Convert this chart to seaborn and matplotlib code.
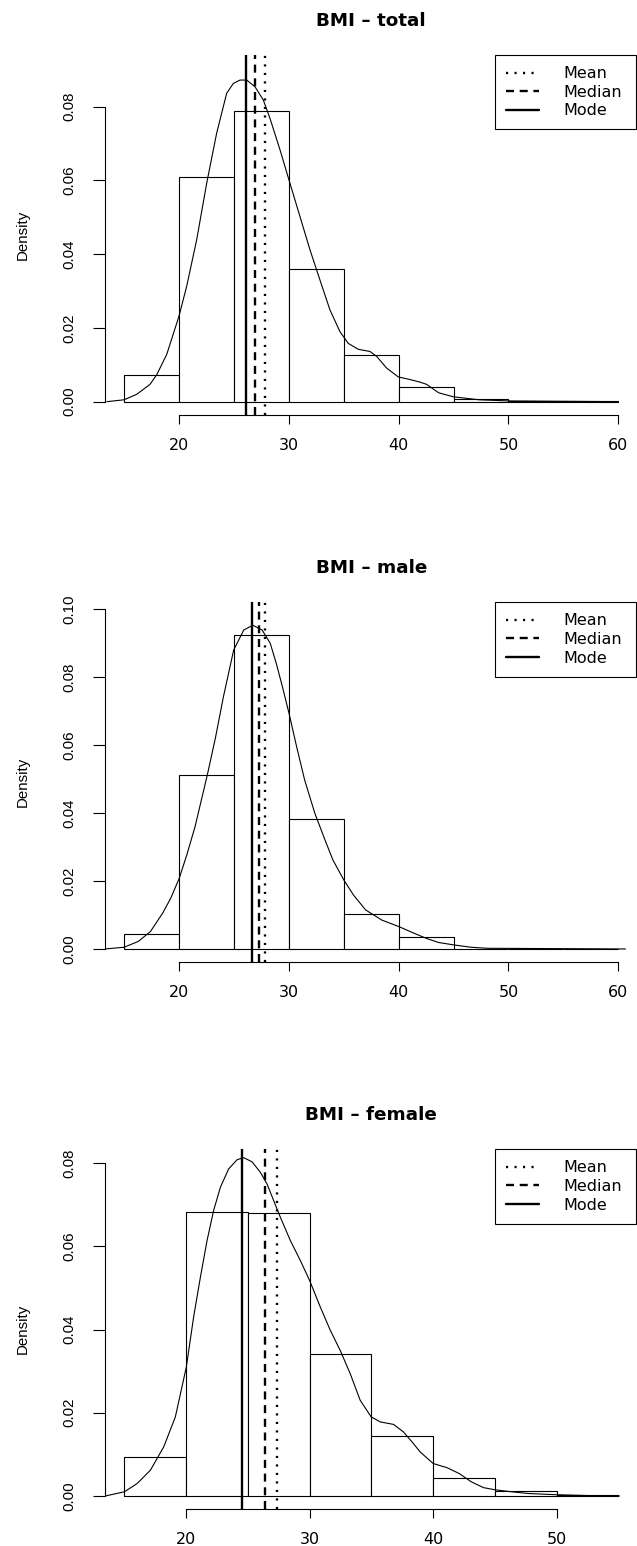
import numpy as np
import pandas as pd
import seaborn as sns
import matplotlib.pyplot as plt

# --- values ---
# histogram breaks and bar densities
edges_total = [15, 20, 25, 30, 35, 40, 45, 50, 55, 60]
bars_total = [0.0072, 0.0608, 0.0787, 0.0361, 0.0127, 0.0040, 0.0008, 0.0002, 0.0001]
edges_male = [15, 20, 25, 30, 35, 40, 45, 50, 55, 60]
bars_male = [0.0044, 0.0511, 0.0923, 0.0383, 0.0104, 0.0034, 0.0001, 0.0001, 0.0001]
edges_female = [15, 20, 25, 30, 35, 40, 45, 50, 55]
bars_female = [0.0094, 0.0682, 0.0680, 0.0342, 0.0145, 0.0044, 0.0012, 0.0002]

# density curves (x, density), traced point by point
kde_x_total = [13.41, 14.97, 16.13, 17.34, 17.95, 18.86, 19.98, 20.68, 21.59, 22.5, 23.41,
               24.32, 24.93, 25.54, 26.15, 26.9, 27.66, 28.27, 29.18, 30.0, 31.0, 31.91,
               32.82, 33.73, 34.64, 35.4, 36.31, 37.38, 37.98, 38.9, 39.96, 41.02, 41.93,
               42.53, 43.64, 45.0, 47.34, 50.0, 55.0, 60.0]
kde_y_total = [0.0, 0.0005, 0.002, 0.0047, 0.0073, 0.0128, 0.0232, 0.0313, 0.0439, 0.0592, 0.0728,
               0.0836, 0.0863, 0.0872, 0.0872, 0.0854, 0.0818, 0.0768, 0.0683, 0.0601, 0.0502, 0.0412,
               0.033, 0.0249, 0.019, 0.0158, 0.0142, 0.0136, 0.0123, 0.0091, 0.0067, 0.006, 0.0053,
               0.0047, 0.0024, 0.0013, 0.0005, 0.0002, 0.0001, 0.0]
kde_x_male = [13.23, 14.97, 16.26, 17.37, 18.48, 19.22, 20.0, 20.7, 21.44, 22.55, 23.29,
              24.03, 24.96, 25.88, 26.7, 27.55, 28.29, 28.84, 29.4, 30.0, 30.7, 31.43,
              32.36, 33.28, 34.0, 35.0, 35.87, 36.98, 38.46, 40.0, 41.42, 42.53, 43.64,
              45.0, 46.6, 48.08, 60.66]
kde_y_male = [0.0, 0.0005, 0.0022, 0.0051, 0.0105, 0.0149, 0.0208, 0.0278, 0.0360, 0.0511, 0.0620,
              0.0743, 0.088, 0.0939, 0.0953, 0.0939, 0.09, 0.0841, 0.0772, 0.0694, 0.0595, 0.0497,
              0.0399, 0.0321, 0.0262, 0.0203, 0.0159, 0.0115, 0.0085, 0.0066, 0.0046, 0.0031, 0.0019,
              0.0012, 0.0005, 0.0002, 0.0]
kde_x_female = [13.46, 15.0, 16.04, 17.11, 18.19, 19.13, 20.02, 20.61, 21.16, 21.7, 22.23,
                22.78, 23.45, 24.13, 24.66, 25.34, 26.01, 26.55, 27.09, 27.63, 28.44, 29.25,
                30.0, 30.87, 31.68, 32.48, 33.29, 34.1, 34.99, 35.72, 36.8, 37.6, 38.41,
                38.95, 40.01, 41.13, 42.12, 43.1, 44.09, 45.01, 46.39, 47.7, 50.0, 52.63, 55.1]
kde_y_female = [0.0, 0.001, 0.003, 0.0062, 0.0118, 0.019, 0.031, 0.043, 0.0526, 0.0614, 0.0686,
                0.0742, 0.0786, 0.0808, 0.0813, 0.0803, 0.0778, 0.075, 0.071, 0.067, 0.0614, 0.0566,
                0.0518, 0.0454, 0.0398, 0.035, 0.0294, 0.023, 0.019, 0.0178, 0.0172, 0.0154, 0.0126,
                0.0106, 0.0078, 0.0068, 0.0054, 0.0034, 0.002, 0.0015, 0.001, 0.0006, 0.0003, 0.0001, 0.0]

# mean / median / mode
stats_total = [27.77, 26.9, 26.1]
stats_male = [27.8, 27.25, 26.66]
stats_female = [27.36, 26.41, 24.54]

titles = ["BMI \u2013 total", "BMI \u2013 male", "BMI \u2013 female"]
stat_labels = ["Mean", "Median", "Mode"]

panels = [
    (titles[0], edges_total, bars_total, kde_x_total, kde_y_total, stats_total,
     [20, 30, 40, 50, 60], [0.0, 0.02, 0.04, 0.06, 0.08], (13.2, 61.8), (-0.00362, 0.0940), 55.0),
    (titles[1], edges_male, bars_male, kde_x_male, kde_y_male, stats_male,
     [20, 30, 40, 50, 60], [0.0, 0.02, 0.04, 0.06, 0.08, 0.10], (13.2, 61.8), (-0.003925, 0.10205), 602.3),
    (titles[2], edges_female, bars_female, kde_x_female, kde_y_female, stats_female,
     [20, 30, 40, 50], [0.0, 0.02, 0.04, 0.06, 0.08], (13.4, 56.6), (-0.0032, 0.0833), 1149.3),
]

sns.set_style("ticks")
plt.rcParams['font.family'] = ['DejaVu Sans']
plt.rcParams.update({
    'axes.linewidth': 0.8, 'axes.edgecolor': 'black', 'text.color': 'black',
    'axes.labelcolor': 'black', 'xtick.color': 'black', 'ytick.color': 'black',
})

W, H = 637, 1546
fig = plt.figure(figsize=(W / 100, H / 100), dpi=100)

left_px, right_px, panel_h = 104.6, 638.0, 360.0
span = right_px - left_px
line_styles = [(0, (0.9, 2.7)), (0, (3.4, 2.4)), '-']

for title, edges, bars, kx, ky, stats, xt, yt, xlim, ylim, top_px in panels:
    ax = fig.add_axes([left_px / W, 1 - (top_px + panel_h) / H, span / W, panel_h / H])

    centers = [(a + b) / 2 for a, b in zip(edges[:-1], edges[1:])]
    sns.histplot(x=centers, weights=bars, bins=edges, stat='count', ax=ax,
                 color='white', edgecolor='black', linewidth=0.8, alpha=1)
    sns.lineplot(x=kx, y=ky, ax=ax, color='black', linewidth=0.8)

    for val, lab, ls in zip(stats, stat_labels, line_styles):
        ax.axvline(val, color='black', linewidth=1.7, linestyle=ls, label=lab)

    ax.set_xlim(*xlim)
    ax.set_ylim(*ylim)

    for side in ['top', 'right']:
        ax.spines[side].set_visible(False)
    ax.spines['left'].set_bounds(yt[0], yt[-1])
    ax.spines['bottom'].set_bounds(xt[0], xt[-1])

    ax.set_xticks(xt)
    ax.set_xticklabels([str(v) for v in xt], fontsize=11.5)
    ax.set_yticks(yt)
    ax.set_yticklabels([f"{v:.2f}" for v in yt], rotation=90, va='center',
                       fontsize=10.8, family='Liberation Sans')
    ax.tick_params(axis='x', direction='out', length=6.7, width=0.8, pad=9.5)
    ax.tick_params(axis='y', direction='out', length=8.6, width=0.8, pad=12)

    ax.set_xlabel("")
    ax.set_ylabel("Density", fontsize=10.8, family='Liberation Sans', va='center')
    ax.yaxis.set_label_coords((23 - left_px) / span, 0.5)

    ax.text(0.5, 1 + 29.5 / panel_h, title, transform=ax.transAxes, ha='center',
            va='baseline', fontsize=13.2, fontweight='bold')

    leg = ax.legend(loc='upper left', mode='expand',
                    bbox_to_anchor=((495 - left_px) / span, 0.0, (636 - 495) / span, 1.0),
                    borderaxespad=0, fontsize=11.5, frameon=True, fancybox=False,
                    framealpha=1, edgecolor='black', handlelength=2.06, handletextpad=1.5,
                    borderpad=0.7, labelspacing=0.22)
    leg.get_frame().set_linewidth(0.8)

fig.savefig("out.png", dpi=100)
